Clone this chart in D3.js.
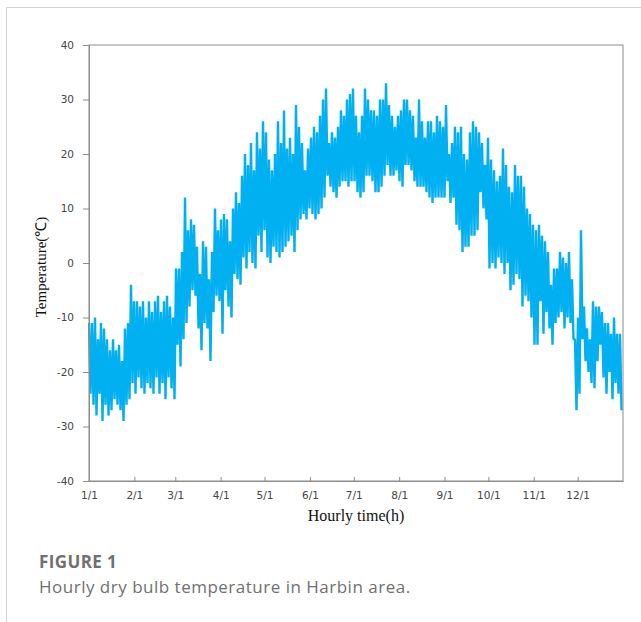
<!DOCTYPE html>
<html>
<head>
<meta charset="utf-8">
<script src="https://cdn.jsdelivr.net/npm/d3@7"></script>
<style>
  body { margin: 0; background: #fff; }
  svg { display: block; }
  .tick text { font-family: "DejaVu Sans", sans-serif; font-size: 10.5px; fill: #454545; }
  .axis-title { font-family: "Liberation Serif", "Times New Roman", serif; fill: #111; }
  .cap { font-family: "Open Sans", Lato, sans-serif; fill: #707070; }
</style>
</head>
<body>
<div id="chart"></div>
<script>
// hourly dry bulb temperature, Harbin
// every reading is one step (~2 days) with the high and low of that span
const tHigh = [
  -11, -11, -10, -14, -11, -12, -14, -16, -14, -16, -15, -18, -12, -11, -4, -7, -7, -8, -7, -10,
  -7, -9, -7, -6, -9, -7, -6, -8, -10, -1, -1, 2, 12, 6, 8, 7, 3, -2, 4, 3,
  -3, 2, 10, 6, 8, 9, 8, 4, 10, 13, 11, 16, 20, 18, 22, 17, 24, 21, 26, 24,
  19, 17, 20, 26, 22, 28, 21, 23, 20, 29, 25, 22, 17, 21, 23, 25, 24, 27, 30, 32,
  22, 24, 23, 25, 28, 27, 30, 31, 32, 27, 24, 27, 32, 30, 28, 28, 27, 30, 30, 33,
  29, 27, 25, 27, 28, 30, 30, 28, 27, 23, 30, 26, 23, 26, 26, 24, 27, 26, 25, 29,
  20, 22, 25, 24, 25, 20, 19, 24, 26, 25, 24, 22, 18, 23, 19, 17, 15, 16, 21, 18,
  14, 13, 18, 16, 16, 14, 10, 9, 7, 6, 7, 5, 4, 2, -4, -1, -1, 2, 1, 0,
  2, -3, -14, -10, 6, -8, -12, -14, -7, -8, -8, -9, -11, -11, -13, -10, -13, -13
];
const tLow = [
  -24, -26, -28, -24, -29, -26, -28, -27, -25, -26, -27, -29, -26, -25, -22, -24, -21, -23, -24, -22,
  -23, -24, -21, -24, -22, -25, -21, -23, -25, -15, -19, -14, -11, -8, -5, -6, -12, -16, -11, -12,
  -18, -9, -6, -7, -13, -5, -8, -10, -2, -3, -4, 1, -1, 2, 0, -1, 5, 2, 6, 1,
  0, 3, 2, 1, 2, 3, 4, 5, 2, 6, 8, 9, 8, 10, 9, 8, 9, 10, 12, 16,
  14, 13, 12, 14, 15, 15, 14, 15, 15, 13, 12, 13, 16, 16, 15, 13, 13, 14, 16, 18,
  16, 16, 17, 15, 14, 18, 18, 17, 15, 14, 14, 14, 13, 12, 11, 12, 12, 12, 12, 15,
  11, 12, 7, 6, 2, 3, 3, 5, 5, 6, 13, 10, 8, -1, 0, -1, 1, 0, -2, 0,
  -5, -4, -2, -3, -8, -6, -7, -10, -15, -15, -7, -13, -9, -12, -15, -11, -10, -9, -12, -10,
  -11, -14, -27, -24, -14, -18, -20, -22, -23, -18, -15, -21, -24, -20, -25, -22, -24, -27
];

const monthHours = [0, 744, 1416, 2160, 2880, 3624, 4344, 5088, 5832, 6552, 7296, 8016];
const monthLabels = ["1/1", "2/1", "3/1", "4/1", "5/1", "6/1", "7/1", "8/1", "9/1", "10/1", "11/1", "12/1"];
const tempTicks = [-40, -30, -20, -10, 0, 10, 20, 30, 40];

let W = 641, H = 622;
let margin = {top: 45, right: 18, bottom: 141, left: 89},
    width = W - margin.left - margin.right,
    height = H - margin.top - margin.bottom;

let svg = d3.select("#chart").append("svg")
    .attr("width", W)
    .attr("height", H);

// card border (top + left)
svg.append("path")
    .attr("d", "M6.5,622 V7.5 H641")
    .attr("fill", "none")
    .attr("stroke", "#d2d2d2");

let g = svg.append("g")
    .attr("transform", "translate(" + margin.left + "," + margin.top + ")");

let x = d3.scaleLinear().domain([0, 8760]).range([0, width]);
let y = d3.scaleLinear().domain([-40, 40]).range([height, 0]);

// build the zig-zag hourly trace from the read highs and lows
let step = 8760 / tHigh.length;
let series = [];
tHigh.forEach(function(hi, i) {
    series.push({h: i * step, t: hi});
    series.push({h: i * step + step / 2, t: tLow[i]});
});

g.append("clipPath").attr("id", "clip")
  .append("rect").attr("x", -1).attr("width", width + 1).attr("height", height);

g.append("path")
    .datum(series)
    .attr("clip-path", "url(#clip)")
    .attr("fill", "none")
    .attr("stroke", "#00b0f0")
    .attr("stroke-width", 2.4)
    .attr("stroke-linejoin", "bevel")
    .attr("d", d3.line()
        .x(function(d) { return x(d.h); })
        .y(function(d) { return y(d.t); }));

// frame
g.append("rect")
    .attr("width", width)
    .attr("height", height)
    .attr("fill", "none")
    .attr("stroke", "#8c8c8c");

// y axis
let yAxis = g.append("g")
    .call(d3.axisLeft(y)
        .tickValues(tempTicks)
        .tickFormat(function(d) { return String(d); })
        .tickSize(6)
        .tickPadding(9));
yAxis.select(".domain").attr("stroke", "#8c8c8c");
yAxis.selectAll(".tick line").attr("stroke", "#8c8c8c");

// x axis, ticks pointing inward
let xAxis = g.append("g")
    .attr("transform", "translate(0," + height + ")")
    .call(d3.axisBottom(x)
        .tickValues(monthHours)
        .tickFormat(function(d, i) { return monthLabels[i]; })
        .tickSizeInner(-4)
        .tickSizeOuter(0)
        .tickPadding(11));
xAxis.select(".domain").attr("stroke", "#8c8c8c");
xAxis.selectAll(".tick line").attr("stroke", "#8c8c8c");

// axis titles
svg.append("text")
    .attr("class", "axis-title")
    .attr("x", 356)
    .attr("y", 521)
    .attr("text-anchor", "middle")
    .style("font-size", "16px")
    .text("Hourly time(h)");

svg.append("text")
    .attr("class", "axis-title")
    .attr("transform", "translate(46,267) rotate(-90)")
    .attr("text-anchor", "middle")
    .style("font-size", "15px")
    .text("Temperature(℃)");

// figure caption
svg.append("text")
    .attr("class", "cap")
    .attr("x", 39)
    .attr("y", 568)
    .style("font-size", "17px")
    .style("font-weight", "bold")
    .style("letter-spacing", "0.4px")
    .text("FIGURE 1");

svg.append("text")
    .attr("class", "cap")
    .attr("x", 39)
    .attr("y", 593)
    .style("font-size", "17px")
    .style("letter-spacing", "0.5px")
    .text("Hourly dry bulb temperature in Harbin area.");
</script>
</body>
</html>
